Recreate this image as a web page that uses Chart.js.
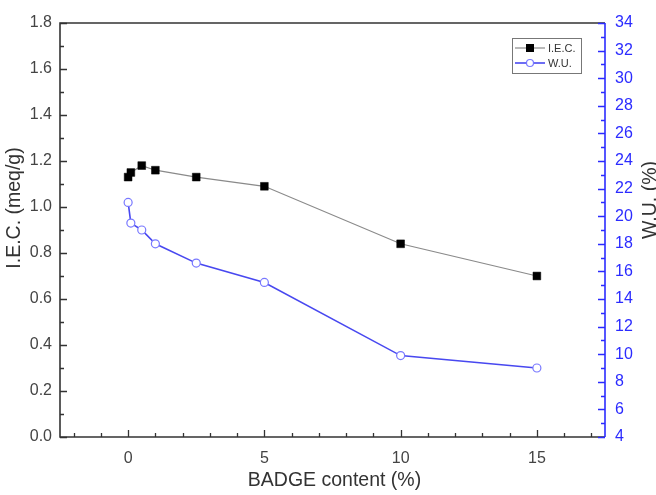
<!DOCTYPE html>
<html lang="en">

<head>
    <meta charset="UTF-8">
    <title>BADGE content</title>
    <script src="https://cdn.jsdelivr.net/npm/chart.js"></script>
    <style>
        html, body { margin: 0; padding: 0; background: #fff; }
        #wrap { width: 656px; height: 495px; }
    </style>
</head>

<body>
    <div id="wrap"><canvas id="myChart" width="656" height="495"></canvas></div>
    <script>
        // values
        const badge = [0, 0.1, 0.5, 1, 2.5, 5, 10, 15];
        const iec = [1.13, 1.15, 1.18, 1.16, 1.13, 1.09, 0.84, 0.70];
        const wu = [21.0, 19.5, 19.0, 18.0, 16.6, 15.2, 9.9, 9.0];
        const xTicks = [0, 5, 10, 15];
        const iecTicks = [0, 0.2, 0.4, 0.6, 0.8, 1.0, 1.2, 1.4, 1.6, 1.8];
        const wuTicks = [4, 6, 8, 10, 12, 14, 16, 18, 20, 22, 24, 26, 28, 30, 32, 34];

        const FONT = 'Arial, "Liberation Sans", sans-serif';
        const BLUE = '#2b2bff';

        // inward ticks, frame, axis titles, legend
        const decorations = {
            id: 'decorations',
            afterDraw(chart) {
                const { ctx, chartArea: a, scales } = chart;
                const x = scales.x, y = scales.y, y1 = scales.y1;
                ctx.save();
                ctx.lineWidth = 1.3;

                // left axis ticks
                ctx.strokeStyle = '#333';
                ctx.beginPath();
                for (let v = 0; v <= 1.801; v += 0.1) {
                    const py = Math.round(y.getPixelForValue(v)) + 0.5;
                    const major = Math.round(v * 10) % 2 === 0;
                    ctx.moveTo(a.left, py);
                    ctx.lineTo(a.left + (major ? 7 : 4), py);
                }
                // bottom axis ticks
                for (let v = -2; v <= 17; v += 1) {
                    const px = Math.round(x.getPixelForValue(v)) + 0.5;
                    const major = v % 5 === 0;
                    ctx.moveTo(px, a.bottom);
                    ctx.lineTo(px, a.bottom - (major ? 7 : 4));
                }
                ctx.stroke();

                // frame (left, bottom, top)
                ctx.lineWidth = 1.6;
                ctx.strokeStyle = '#333';
                ctx.beginPath();
                ctx.moveTo(a.right, a.top);
                ctx.lineTo(a.left, a.top);
                ctx.lineTo(a.left, a.bottom);
                ctx.lineTo(a.right, a.bottom);
                ctx.stroke();

                // right axis in blue
                ctx.strokeStyle = BLUE;
                ctx.beginPath();
                ctx.moveTo(a.right, a.top);
                ctx.lineTo(a.right, a.bottom);
                ctx.stroke();
                ctx.lineWidth = 1.3;
                ctx.beginPath();
                for (let v = 4; v <= 34; v += 1) {
                    const py = Math.round(y1.getPixelForValue(v)) + 0.5;
                    const major = v % 2 === 0;
                    ctx.moveTo(a.right, py);
                    ctx.lineTo(a.right - (major ? 7 : 4), py);
                }
                ctx.stroke();

                // axis titles
                ctx.font = '19.5px ' + FONT;
                ctx.textAlign = 'center';
                ctx.textBaseline = 'middle';
                ctx.fillStyle = '#333';
                ctx.fillText('BADGE content (%)', (a.left + a.right) / 2 + 2, 481);

                ctx.save();
                ctx.translate(15, 208);
                ctx.rotate(-Math.PI / 2);
                ctx.fillText('I.E.C. (meq/g)', 0, 0);
                ctx.restore();

                ctx.save();
                ctx.translate(651, 200);
                ctx.rotate(-Math.PI / 2);
                ctx.fillText('W.U. (%)', 0, 0);
                ctx.restore();

                // legend box
                const lx = 512, ly = 38, lw = 69, lh = 35;
                ctx.lineWidth = 1;
                ctx.strokeStyle = '#777';
                ctx.strokeRect(lx + 0.5, ly + 0.5, lw, lh);
                ctx.font = '11px ' + FONT;
                ctx.textAlign = 'left';
                chart.data.datasets.forEach((ds, i) => {
                    const ry = ly + 10 + i * 15;
                    ctx.strokeStyle = ds.borderColor;
                    ctx.lineWidth = ds.borderWidth;
                    ctx.beginPath();
                    ctx.moveTo(lx + 3, ry);
                    ctx.lineTo(lx + 33, ry);
                    ctx.stroke();
                    if (ds.pointStyle === 'rect') {
                        ctx.fillStyle = ds.pointBackgroundColor;
                        ctx.fillRect(lx + 14, ry - 4, 8, 8);
                    } else {
                        ctx.fillStyle = '#fff';
                        ctx.strokeStyle = ds.pointBorderColor;
                        ctx.lineWidth = 1.2;
                        ctx.beginPath();
                        ctx.arc(lx + 18, ry, 3.5, 0, Math.PI * 2);
                        ctx.fill();
                        ctx.stroke();
                    }
                    ctx.fillStyle = '#333';
                    ctx.fillText(ds.label, lx + 36, ry + 1);
                });
                ctx.restore();
            }
        };

        function draw_chart() {
            let ctx = document.getElementById('myChart').getContext('2d');
            let myChart = new Chart(ctx, {
                type: 'scatter',
                data: {
                    datasets: [{
                        label: 'I.E.C.',
                        data: badge.map((b, i) => ({ x: b, y: iec[i] })),
                        yAxisID: 'y',
                        showLine: true,
                        borderColor: '#8a8a8a',
                        borderWidth: 1.2,
                        pointStyle: 'rect',
                        pointRadius: 5.5,
                        pointBorderWidth: 0.5,
                        pointBorderColor: '#000',
                        pointBackgroundColor: '#000'
                    }, {
                        label: 'W.U.',
                        data: badge.map((b, i) => ({ x: b, y: wu[i] })),
                        yAxisID: 'y1',
                        showLine: true,
                        borderColor: '#4848f0',
                        borderWidth: 1.6,
                        pointStyle: 'circle',
                        pointRadius: 4,
                        pointBorderWidth: 1.2,
                        pointBorderColor: '#7878ff',
                        pointBackgroundColor: '#fff'
                    }]
                },
                options: {
                    responsive: false,
                    animation: false,
                    layout: { padding: { top: 23, left: 0, right: 0, bottom: 0 } },
                    plugins: {
                        legend: { display: false },
                        tooltip: { enabled: false }
                    },
                    scales: {
                        x: {
                            type: 'linear',
                            min: -2.5,
                            max: 17.5,
                            grid: { display: false, drawTicks: false },
                            border: { display: false },
                            afterBuildTicks: (s) => { s.ticks = xTicks.map(v => ({ value: v })); },
                            afterFit: (s) => { s.height = 58; },
                            ticks: { padding: 12, color: '#444', font: { family: FONT, size: 16 } }
                        },
                        y: {
                            position: 'left',
                            min: 0,
                            max: 1.8,
                            grid: { display: false, drawTicks: false },
                            border: { display: false },
                            afterBuildTicks: (s) => { s.ticks = iecTicks.map(v => ({ value: v })); },
                            afterFit: (s) => { s.width = 60; },
                            ticks: {
                                padding: 8, color: '#444', font: { family: FONT, size: 16 },
                                callback: (v) => Number(v).toFixed(1)
                            }
                        },
                        y1: {
                            position: 'right',
                            min: 4,
                            max: 34,
                            grid: { display: false, drawTicks: false },
                            border: { display: false },
                            afterBuildTicks: (s) => { s.ticks = wuTicks.map(v => ({ value: v })); },
                            afterFit: (s) => { s.width = 51; },
                            ticks: { padding: 10, color: BLUE, font: { family: FONT, size: 16 } }
                        }
                    }
                },
                plugins: [decorations]
            });
        }
        draw_chart();
    </script>
</body>

</html>
